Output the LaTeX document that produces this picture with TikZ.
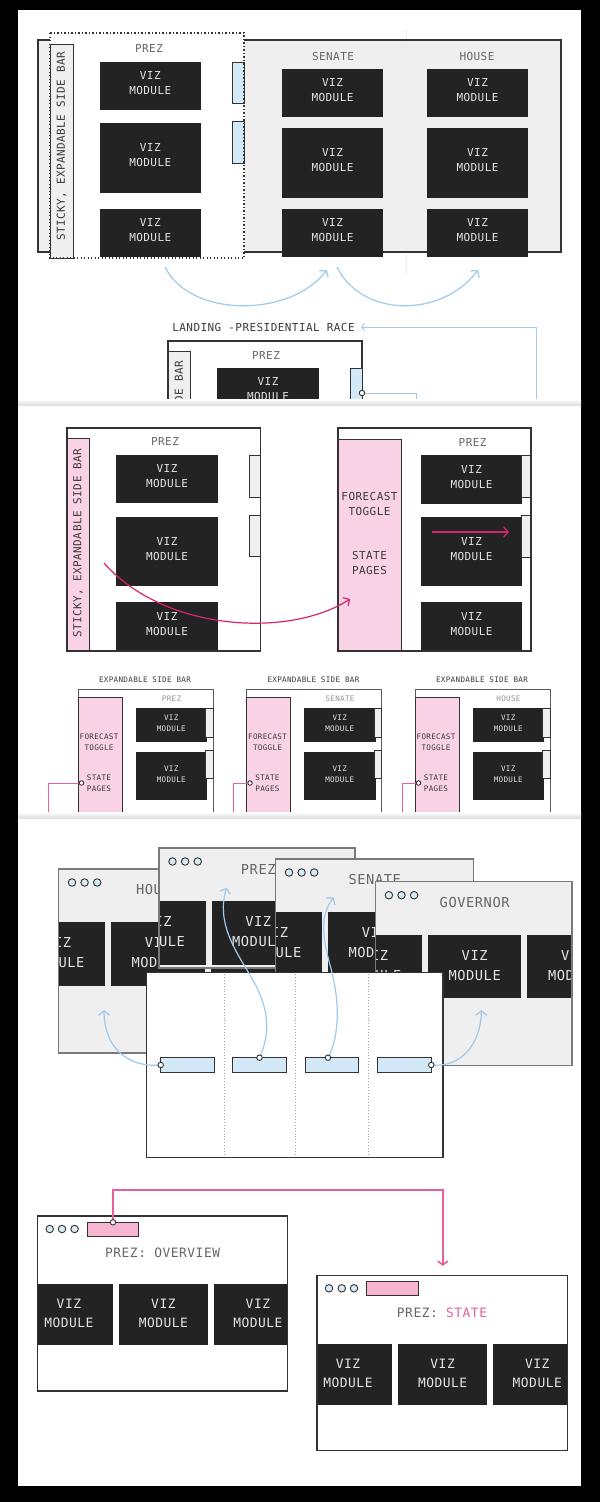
\documentclass[tikz,border=0pt]{standalone}
\usepackage{fontspec}
\newfontfamily\mono[LetterSpace=4]{DejaVu Sans Mono}
\usetikzlibrary{arrows.meta}
\definecolor{modc}{HTML}{232323}
\definecolor{modtxt}{HTML}{E4E4E4}
\definecolor{framec}{HTML}{333333}
\definecolor{panelg}{HTML}{EFEFEF}
\definecolor{tabblue}{HTML}{D3E9F7}
\definecolor{arrblue}{HTML}{9FC9EE}
\definecolor{sbpink}{HTML}{F9D3E5}
\definecolor{tabpink}{HTML}{F7B5D1}
\definecolor{arrpink}{HTML}{D6246E}
\definecolor{linkpink}{HTML}{E5609C}
\definecolor{labelc}{HTML}{666666}
\definecolor{darktxt}{HTML}{3A3A3A}
\definecolor{wingrey}{HTML}{7A7A7A}
\definecolor{dotfill}{HTML}{D6ECF2}
\tikzset{
  box/.style={rectangle, inner sep=0pt, outer sep=0pt},
  modbox/.style={box, fill=modc},
  modtext/.style={text=modtxt, align=center, inner sep=0pt},
  fA/.style={font=\mono\fontsize{11}{15}\selectfont},
  fS/.style={font=\mono\fontsize{7.6}{11}\selectfont},
  fB/.style={font=\mono\fontsize{13.7}{20}\selectfont},
  fC/.style={font=\mono\fontsize{12.9}{19}\selectfont},
  lbl/.style={text=labelc, inner sep=0pt},
  slbl/.style={text=labelc!70, inner sep=0pt},
  dlbl/.style={text=darktxt, inner sep=0pt, align=center},
  wframe/.style={box, fill=white, draw=framec, line width=1.2pt},
  sframe/.style={box, fill=white, draw=framec!80, line width=1pt},
  tabb/.style={box, fill=tabblue, draw=framec, line width=1pt},
  tabg/.style={box, fill=panelg, draw=framec, line width=1pt},
  tabp/.style={box, fill=tabpink, draw=framec, line width=1pt},
  sbg/.style={box, fill=panelg, draw=framec, line width=1pt},
  sbp/.style={box, fill=sbpink, draw=framec, line width=1pt},
  winbox/.style={box, fill=panelg},
  dotc/.style={circle, draw=framec, fill=white, line width=0.9pt, minimum size=5.5pt, inner sep=0pt},
  wdot/.style={circle, draw=framec, fill=dotfill, line width=0.9pt, minimum size=7.5pt, inner sep=0pt},
  barrow/.style={draw=arrblue, line width=1.2pt, -{Straight Barb[length=4.5pt,width=11pt]}},
  bline/.style={draw=arrblue, line width=0.9pt},
  parrow/.style={draw=arrpink, line width=1.2pt, -{Straight Barb[length=4.5pt,width=10pt]}},
  plink/.style={draw=linkpink, line width=1pt},
  edgeline/.style={draw=framec, line width=1.2pt},
}
\newcommand\bx[6]{\node[#6, minimum width={(#4)-(#2)}, minimum height={(#5)-(#3)}] (#1) at ({((#2)+(#4))/2},{((#3)+(#5))/2}) {};}
\newcommand\vmod[7][2.5]{\bx{#2}{#3}{#4}{#5}{#6}{modbox}\node[modtext,#7] (#2t) at ([yshift=#1pt]#2.center) {VIZ\\MODULE};}
% browser window: name, left, top, right, bottom, title
\newcommand\bwin[6]{%
  \pgfmathsetmacro\bwL{#2}\pgfmathsetmacro\bwT{#3}%
  \pgfmathsetmacro\bwMt{\bwT+53}\pgfmathsetmacro\bwMb{\bwT+116.5}%
  \pgfmathsetmacro\bwAa{\bwL-47}\pgfmathsetmacro\bwAb{\bwL+46.5}%
  \pgfmathsetmacro\bwBa{\bwL+52.5}\pgfmathsetmacro\bwBb{\bwL+146}%
  \pgfmathsetmacro\bwCa{\bwL+152}\pgfmathsetmacro\bwCb{\bwL+245.5}%
  \bx{#1}{#2}{#3}{#4}{#5}{winbox}
  \begin{scope}
    \clip (#2,#3) rectangle (#4,#5);
    \vmod[1]{#1m1}{\bwAa}{\bwMt}{\bwAb}{\bwMb}{fB}
    \vmod[1]{#1m2}{\bwBa}{\bwMt}{\bwBb}{\bwMb}{fB}
    \vmod[1]{#1m3}{\bwCa}{\bwMt}{\bwCb}{\bwMb}{fB}
  \end{scope}
  \draw[draw=wingrey, line width=1.2pt] (#1.north west) rectangle (#1.south east);
  \node[wdot] (#1d1) at (\bwL+13.5,\bwT+13.5) {};
  \node[wdot] (#1d2) at (\bwL+26.1,\bwT+13.5) {};
  \node[wdot] (#1d3) at (\bwL+38.7,\bwT+13.5) {};
  \node[lbl,fB] (#1ti) at (\bwL+99.25,\bwT+21) {#6};
}
% small panel: name, x0, title, link x
\newcommand\spanel[4]{%
  \pgfmathsetmacro\spX{#2}%
  \node[dlbl,fS] (#1lb) at (\spX+67,680) {EXPANDABLE SIDE BAR};
  \bx{#1f}{\spX}{689}{\spX+135}{850}{sframe}
  \bx{#1s}{\spX}{697}{\spX+44}{850}{sbp}
  \node[slbl,fS] (#1ti) at (\spX+93.5,699) {#3};
  \vmod[2]{#1m1}{\spX+57.5}{708}{\spX+129}{742}{fS}
  \vmod[2]{#1m2}{\spX+57.5}{752}{\spX+129}{800}{fS}
  \vmod[2]{#1m3}{\spX+57.5}{812}{\spX+129}{850}{fS}
  \bx{#1tb1}{\spX+127.5}{708}{\spX+135}{737}{tabg}
  \bx{#1tb2}{\spX+127.5}{750}{\spX+135}{778}{tabg}
  \node[dlbl,fS] (#1ft) at (\spX+21,742.5) {FORECAST\\TOGGLE};
  \node[dlbl,fS] (#1sp) at (\spX+21,783.5) {STATE\\PAGES};
  \node[dotc, minimum size=4.5pt] (#1k) at (\spX+3.5,783) {};
  \coordinate (#1ke) at (#4,830);
  \draw[plink] (#1k) -- (#4,783) -- (#1ke);
}
\begin{document}
\begin{tikzpicture}[x=1pt,y=-1pt]
\useasboundingbox (0,0) rectangle (600,1502);
\fill[black] (0,0) rectangle (600,1502);
\fill[white] (18,10) rectangle (581,1486);

% ================= section 1
\fill[panelg] (38,40) rectangle (561,252);
\fill[white] (50,33) rectangle (244,258);
\draw[black!7, line width=0.8pt] (406,30) -- (406,275);
\draw[edgeline] (50,40) -- (38,40) -- (38,252) -- (50,252);
\draw[edgeline] (244,40) -- (561,40) -- (561,252) -- (244,252);
\bx{sb1}{50}{44}{73}{258}{sbg}
\node[dlbl,fA,rotate=90] (sb1t) at (61.5,146.5) {STICKY, EXPANDABLE SIDE BAR};
\node[lbl,fA] (tprez) at (149,48) {PREZ};
\node[lbl,fA] (tsen) at (333,56) {SENATE};
\node[lbl,fA] (thou) at (477,56) {HOUSE};
\vmod{pm1}{99.5}{62}{201}{110}{fA}
\vmod{pm2}{99.5}{123}{201}{193}{fA}
\vmod{pm3}{99.5}{209}{201}{257}{fA}
\vmod{sm1}{282}{69}{383}{117}{fA}
\vmod{sm2}{282}{128}{383}{198}{fA}
\vmod{sm3}{282}{209}{383}{257}{fA}
\vmod{hm1}{427}{69}{528}{117}{fA}
\vmod{hm2}{427}{128}{528}{198}{fA}
\vmod{hm3}{427}{209}{528}{257}{fA}
\bx{ptab1}{232}{62}{244}{103}{tabb}
\bx{ptab2}{232}{121}{244}{163}{tabb}
\draw[draw=framec, line width=1.1pt, dash pattern=on 1.2pt off 2.3pt] (50,33) rectangle (244,258);
\coordinate (a1s) at (165,267); \coordinate (a1e) at (327,270);
\coordinate (a2s) at (337,267); \coordinate (a2e) at (478,270);
\draw[barrow] (a1s) .. controls (190,318) and (290,318) .. (a1e);
\draw[barrow] (a2s) .. controls (362,318) and (442,318) .. (a2e);

% landing (cut at the seam)
\begin{scope}
  \clip (18,300) rectangle (581,405);
  \node[dlbl,fA] (land) at (263.5,327) {LANDING -PRESIDENTIAL RACE};
  \coordinate (lnA) at (536,410);
  \draw[bline, -{Straight Barb[length=3pt,width=7pt]}] (lnA) |- ([xshift=6pt]land.east);
  \bx{lbox}{168}{341}{362}{430}{wframe}
  \bx{lsb}{168}{351}{190}{430}{sbg}
  \node[dlbl,fA,rotate=90,anchor=east] (lsbt) at (179.5,361) {STICKY, EXPANDABLE SIDE BAR};
  \node[lbl,fA] (lprez) at (266,355) {PREZ};
  \vmod{lm1}{217}{368}{319}{416}{fA}
  \bx{ltab}{350.5}{368}{362}{430}{tabb}
  \node[dotc] (lk) at (362,393) {};
  \coordinate (lke) at (416,410);
  \draw[bline] (lk) -- (416,393) -- (lke);
\end{scope}
\shade[top color=white, bottom color=black!14] (18,399) rectangle (581,405.5);

% ================= section 2
\bx{lp}{67}{428}{260.6}{651}{wframe}
\bx{lpsb}{67}{438}{89.5}{651}{sbp}
\node[dlbl,fA,rotate=90] (lpsbt) at (78,543) {STICKY, EXPANDABLE SIDE BAR};
\node[lbl,fA] (lpprez) at (165,441) {PREZ};
\vmod{lpm1}{116}{455}{218}{503}{fA}
\vmod{lpm2}{116}{517}{218}{586}{fA}
\vmod{lpm3}{116}{602}{218}{651}{fA}
\bx{lpt1}{249}{455}{260.6}{497}{tabg}
\bx{lpt2}{249}{515}{260.6}{556}{tabg}
\bx{rp}{338}{428}{531}{651}{wframe}
\bx{rpsb}{338}{439}{401}{651}{sbp}
\node[dlbl,fA] (rpft) at (369.5,503.5) {FORECAST\\TOGGLE};
\node[dlbl,fA] (rpsp) at (369.5,563) {STATE\\PAGES};
\node[lbl,fA] (rpprez) at (472.6,442) {PREZ};
\vmod{rpm1}{421}{455}{522}{504}{fA}
\vmod{rpm2}{421}{517}{522}{586}{fA}
\vmod{rpm3}{421}{602}{522}{651}{fA}
\bx{rpt1}{521}{455}{531}{497}{tabg}
\bx{rpt2}{521}{515}{531}{557}{tabg}
\draw[edgeline] (lp.north west) rectangle (lp.south east);
\draw[edgeline] (rp.north west) rectangle (rp.south east);
\coordinate (pa1) at (432,532); \coordinate (pa2) at (509,532);
\draw[parrow] (pa1) -- (pa2);
\coordinate (pc1) at (104,563); \coordinate (pc2) at (350,599);
\draw[parrow] (pc1) .. controls (165,632) and (290,638) .. (pc2);

\begin{scope}
  \clip (18,660) rectangle (581,817);
  \spanel{spA}{78}{PREZ}{48}
  \spanel{spB}{246.5}{SENATE}{233.5}
  \spanel{spC}{415}{HOUSE}{402.6}
\end{scope}
\shade[top color=white, bottom color=black!14] (18,812) rectangle (581,818.5);

% ================= section 3
\bwin{wh}{58.5}{869}{360}{1053}{HOUSE}
\bwin{wp}{159}{848}{355}{968}{PREZ}
\bwin{ws}{275.5}{859}{473.8}{1040}{SENATE}
\bwin{wg}{375.4}{881.7}{572}{1065.7}{GOVERNOR}
\bx{front}{146.6}{972.7}{443}{1157.7}{wframe}
\draw[dotted, draw=black!35, line width=0.9pt] (224.3,974) -- (224.3,1157);
\draw[dotted, draw=black!35, line width=0.9pt] (295.5,974) -- (295.5,1157);
\draw[dotted, draw=black!35, line width=0.9pt] (368.2,974) -- (368.2,1157);
\draw[edgeline] (front.north west) rectangle (front.south east);
\bx{ft1}{160.7}{1057.7}{214.3}{1072.3}{tabb}
\bx{ft2}{232.7}{1057.7}{286.3}{1072.3}{tabb}
\bx{ft3}{305}{1057.7}{358.6}{1072.3}{tabb}
\bx{ft4}{377.3}{1057.7}{431.3}{1072.3}{tabb}
\coordinate (h1) at (104,1010);
\coordinate (h2) at (226.6,887.7);
\coordinate (h3) at (333.7,897.3);
\coordinate (h4) at (481.4,1010);
\draw[barrow] (160.7,1065) .. controls (125,1068) and (104,1045) .. (h1);
\draw[barrow] (259.5,1057.7) .. controls (272,1030) and (268,1005) .. (250,975) .. controls (235,950) and (216,922) .. (h2);
\draw[barrow] (328,1057.7) .. controls (340,1035) and (340,1000) .. (330,965) .. controls (322,935) and (320,915) .. (h3);
\draw[barrow] (431.3,1065) .. controls (460,1068) and (481,1045) .. (h4);
\node[dotc] (fk1) at (ft1.west) {};
\node[dotc] (fk2) at (259.5,1057.7) {};
\node[dotc] (fk3) at (328,1057.7) {};
\node[dotc] (fk4) at (ft4.east) {};

% ================= section 4
\bx{w1}{37.5}{1216}{287.4}{1391}{wframe}
\begin{scope}
  \clip (37.5,1216) rectangle (287.4,1391);
  \vmod[1]{w1m1}{24.5}{1284.3}{113.3}{1345.3}{fC}
  \vmod[1]{w1m2}{119}{1284.3}{207.8}{1345.3}{fC}
  \vmod[1]{w1m3}{213.5}{1284.3}{302.3}{1345.3}{fC}
\end{scope}
\draw[edgeline] (w1.north west) rectangle (w1.south east);
\node[wdot] (w1d1) at (49.75,1229) {};
\node[wdot] (w1d2) at (62,1229) {};
\node[wdot] (w1d3) at (74.6,1229) {};
\bx{w1tab}{87.3}{1222.3}{138.5}{1236}{tabp}
\node[lbl,fC] (w1ti) at (162.6,1252.7) {PREZ: OVERVIEW};

\bx{w2}{316.9}{1275.7}{567.2}{1450.7}{wframe}
\begin{scope}
  \clip (316.9,1275.7) rectangle (567.2,1450.7);
  \vmod[1]{w2m1}{303.6}{1343.7}{392.3}{1405}{fC}
  \vmod[1]{w2m2}{398}{1343.7}{487.2}{1405}{fC}
  \vmod[1]{w2m3}{492.9}{1343.7}{581.6}{1405}{fC}
\end{scope}
\draw[edgeline] (w2.north west) rectangle (w2.south east);
\node[wdot] (w2d1) at (329,1288.3) {};
\node[wdot] (w2d2) at (341.8,1288.3) {};
\node[wdot] (w2d3) at (354,1288.3) {};
\bx{w2tab}{366.6}{1281.7}{418}{1295.7}{tabp}
\node[lbl,fC] (w2ti) at (442,1312.3) {PREZ: \textcolor{linkpink}{STATE}};

\coordinate (lkend) at (442.8,1266);
\draw[draw=linkpink, line width=1.6pt, -{Straight Barb[length=4pt,width=10pt]}] (113,1222.3) -- (113,1190) -- (442.8,1190) -- (lkend);
\node[dotc] (lk1) at (113,1222.3) {};
\end{tikzpicture}
\end{document}
